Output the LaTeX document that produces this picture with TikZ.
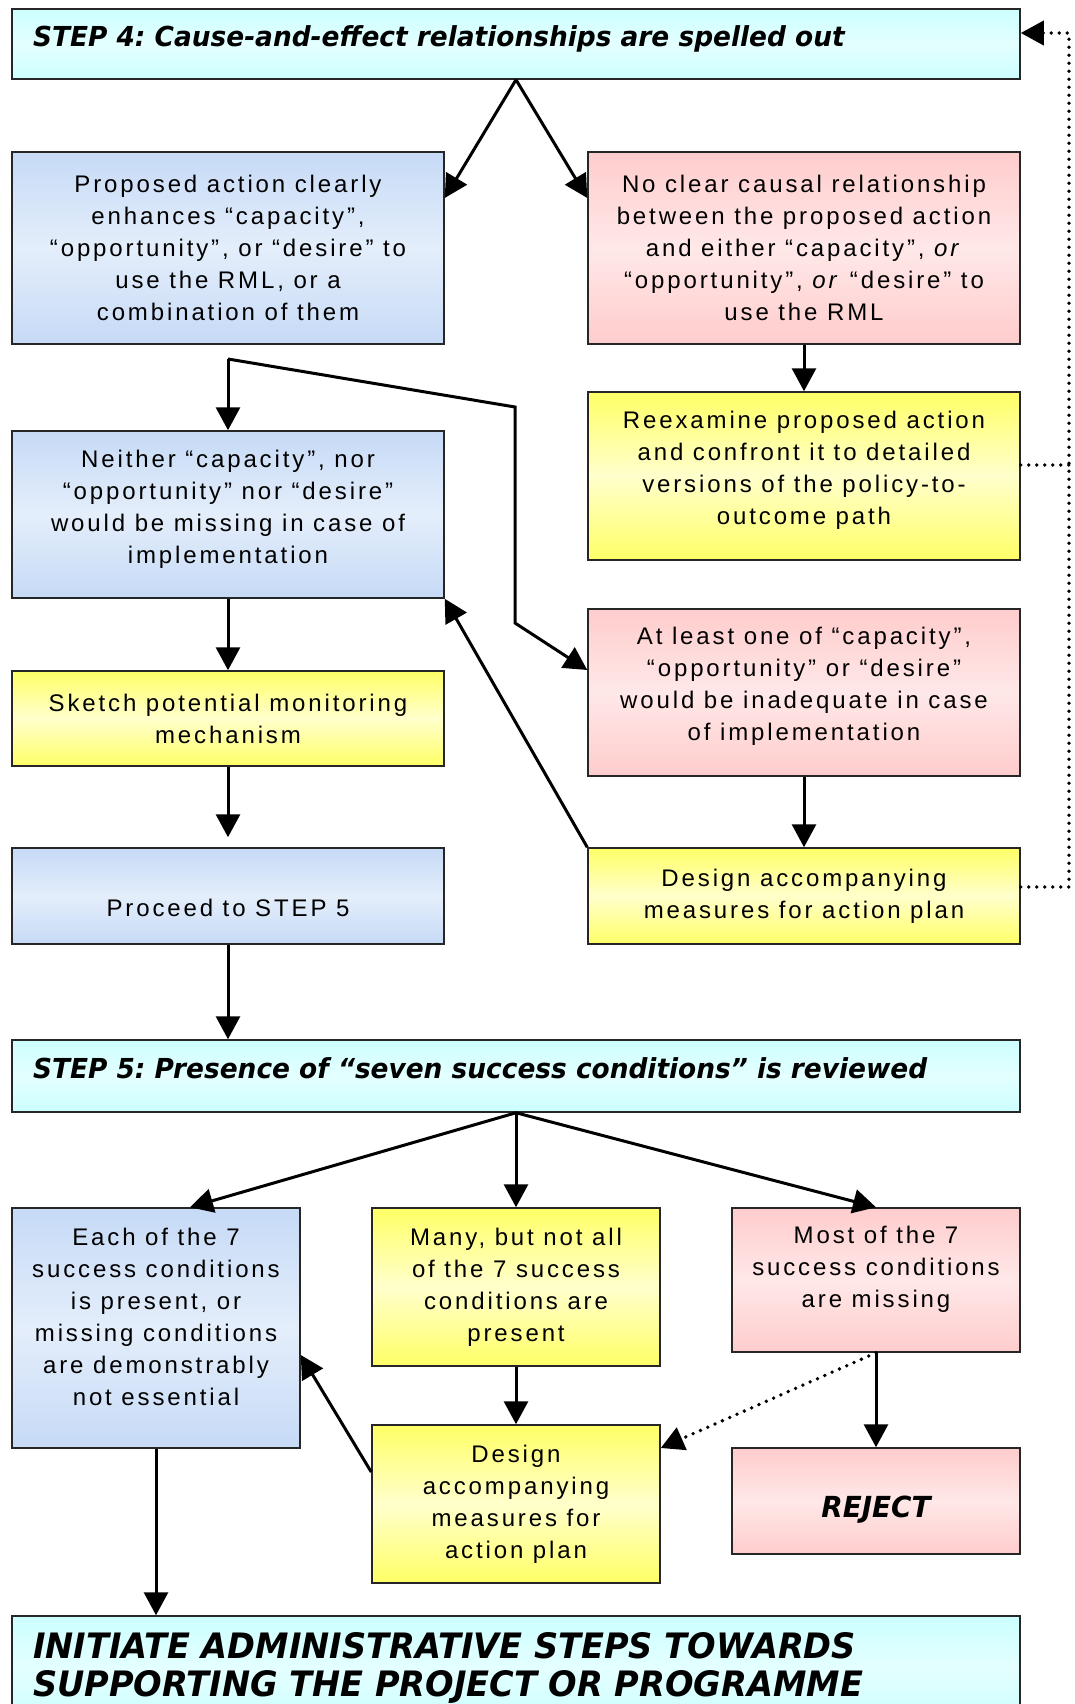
\documentclass[tikz,border=0pt]{standalone}
\usepackage{fontspec}
\setmainfont{Liberation Sans}[LetterSpace=12]
\newfontfamily\hdfamily{DejaVu Sans}[FakeStretch=0.96]
\usetikzlibrary{arrows.meta,calc}

\definecolor{bluedk}{HTML}{C6DAF6}
\definecolor{bluelt}{HTML}{E4EEFB}
\definecolor{yellowdk}{HTML}{FFFF66}
\definecolor{yellowlt}{HTML}{FFFFCC}
\definecolor{pinkdk}{HTML}{FFCCCC}
\definecolor{pinklt}{HTML}{FFE8E8}
\definecolor{cyandk}{HTML}{CCFFFF}
\definecolor{cyanlt}{HTML}{E4FFFF}

\newcommand\bxfont{\fontsize{24}{32}\selectfont}
\newcommand\hdfont{\hdfamily\bfseries\itshape\fontsize{27.5}{30}\selectfont}
\newcommand\rjfont{\hdfamily\bfseries\itshape\fontsize{29}{30}\selectfont}
\newcommand\bigfont{\hdfamily\bfseries\itshape\fontsize{35}{38}\selectfont}

\begin{document}
\frenchspacing
\begin{tikzpicture}[x=1pt,y=-1pt,
  box/.style={draw=black!85, line width=1.5pt, inner sep=0pt, align=center,
    font=\bxfont, top color=#1dk, bottom color=#1dk, middle color=#1lt},
  bluebox/.style={box=blue},
  yellowbox/.style={box=yellow},
  pinkbox/.style={box=pink},
  headbox/.style={box=cyan, align=left, font=\hdfont, text width=966pt},
  arr/.style={line width=3pt, -{Triangle[width=24pt,length=23pt]}},
  dotln/.style={line width=3.8pt, line cap=round, dash pattern=on 0pt off 8pt},
  dotarr/.style={dotln, -{Triangle[width=24pt,length=23pt]}}
]
\useasboundingbox (0,0) rectangle (1074,1704);

% ---- STEP 4 ----
\node[headbox, minimum width=1008pt, minimum height=70pt, text height=20pt, text depth=14pt]
  (s4) at (516,44) {STEP 4: Cause-and-effect relationships are spelled out};

\node[bluebox, minimum width=432pt, minimum height=192pt] (prop) at (228,248)
  {Proposed action clearly\\ enhances “capacity”,\\ “opportunity”, or “desire” to\\ use the RML, or a\\ combination of them};
\node[pinkbox, minimum width=432pt, minimum height=192pt] (noclear) at (804,248)
  {No clear causal relationship\\ between the proposed action\\ and either “capacity”, \textit{or}\\ “opportunity”, \textit{or} “desire” to\\ use the RML};
\node[yellowbox, minimum width=432pt, minimum height=168pt] (reex) at (804,476)
  {Reexamine proposed action\\ and confront it to detailed\\ versions of the policy-to-\\ outcome path\\[-15pt]\mbox{}};
\node[bluebox, minimum width=432pt, minimum height=167pt] (neither) at (228,514.5)
  {Neither “capacity”, nor\\ “opportunity” nor “desire”\\ would be missing in case of\\ implementation\\[-16pt]\mbox{}};
\node[yellowbox, minimum width=432pt, minimum height=95pt] (sketch) at (228,718.5)
  {Sketch potential monitoring\\ mechanism};
\node[pinkbox, minimum width=432pt, minimum height=167pt] (atleast) at (804,692.5)
  {At least one of “capacity”,\\ “opportunity” or “desire”\\ would be inadequate in case\\ of implementation\\[-14pt]\mbox{}};
\node[bluebox, minimum width=432pt, minimum height=96pt, text height=45pt, text depth=5pt]
  (proceed) at (228,896) {Proceed to STEP 5};
\node[yellowbox, minimum width=432pt, minimum height=96pt] (design1) at (804,896)
  {Design accompanying\\ measures for action plan};

% ---- STEP 5 ----
\node[headbox, minimum width=1008pt, minimum height=72pt, text height=20pt, text depth=16pt]
  (s5) at (516,1076) {STEP 5: Presence of “seven success conditions” is reviewed};

\node[bluebox, minimum width=288pt, minimum height=240pt] (each) at (156,1328)
  {Each of the 7\\ success conditions\\ is present, or\\ missing conditions\\ are demonstrably\\ not essential\\[-10pt]\mbox{}};
\node[yellowbox, minimum width=288pt, minimum height=158pt] (many) at (516,1287)
  {Many, but not all\\ of the 7 success\\ conditions are\\ present};
\node[pinkbox, minimum width=288pt, minimum height=144pt] (most) at (876,1280)
  {Most of the 7\\ success conditions\\ are missing\\[-5pt]\mbox{}};
\node[yellowbox, minimum width=288pt, minimum height=158pt] (design2) at (516,1504)
  {Design\\ accompanying\\ measures for\\ action plan};
\node[pinkbox, minimum width=288pt, minimum height=106pt, font=\rjfont, text height=40pt, text depth=8pt]
  (reject) at (876,1501) {REJECT};

\node[headbox, minimum width=1008pt, minimum height=104pt, font=\bigfont]
  (init) at (516,1668) {INITIATE ADMINISTRATIVE STEPS TOWARDS\\ SUPPORTING THE PROJECT OR PROGRAMME};

% ---- connectors ----
\coordinate (br1) at (228,359);
\coordinate (br2) at (515,407);
\coordinate (br3) at (515,623);
\coordinate (rc1) at (1069,887);
\coordinate (rc2) at (1069,33);
\coordinate (rc3) at (1069,465);

\draw[arr] (s4.south) -- ([yshift=50pt]prop.east);
\draw[arr] (s4.south) -- ([yshift=50pt]noclear.west);
\draw[arr] (br1) -- (neither.north);
\draw[arr] (br1) -- (br2) -- (br3) -- ([yshift=22.5pt]atleast.west);
\draw[arr] (noclear.south) -- (reex.north);
\draw[arr] (neither.south) -- (sketch.north);
\draw[arr] (sketch.south) -- ([yshift=10pt]proceed.north);
\draw[arr] (atleast.south) -- (design1.north);
\draw[arr] (design1.north west) -- (neither.south east);
\draw[dotarr] (design1.east |- rc1) -- (rc1) -- (rc2) -- (s4.east |- rc2);
\draw[dotln] (reex.east |- rc3) -- (rc3);
\draw[arr] (proceed.south) -- (proceed.south |- s5.north);

\draw[arr] (s5.south) -- ([xshift=34pt]each.north);
\draw[arr] (s5.south) -- (many.north);
\draw[arr] (s5.south) -- (most.north);
\draw[arr] (many.south) -- (design2.north);
\draw[arr] ([yshift=32pt]design2.west) -- ([yshift=-27pt]each.east);
\draw[arr] (most.south) -- (reject.north);
\draw[dotarr] (most.south) -- ([yshift=56pt]design2.east);
\draw[arr] (each.south) -- (init.north -| each.south);
\end{tikzpicture}
\end{document}
